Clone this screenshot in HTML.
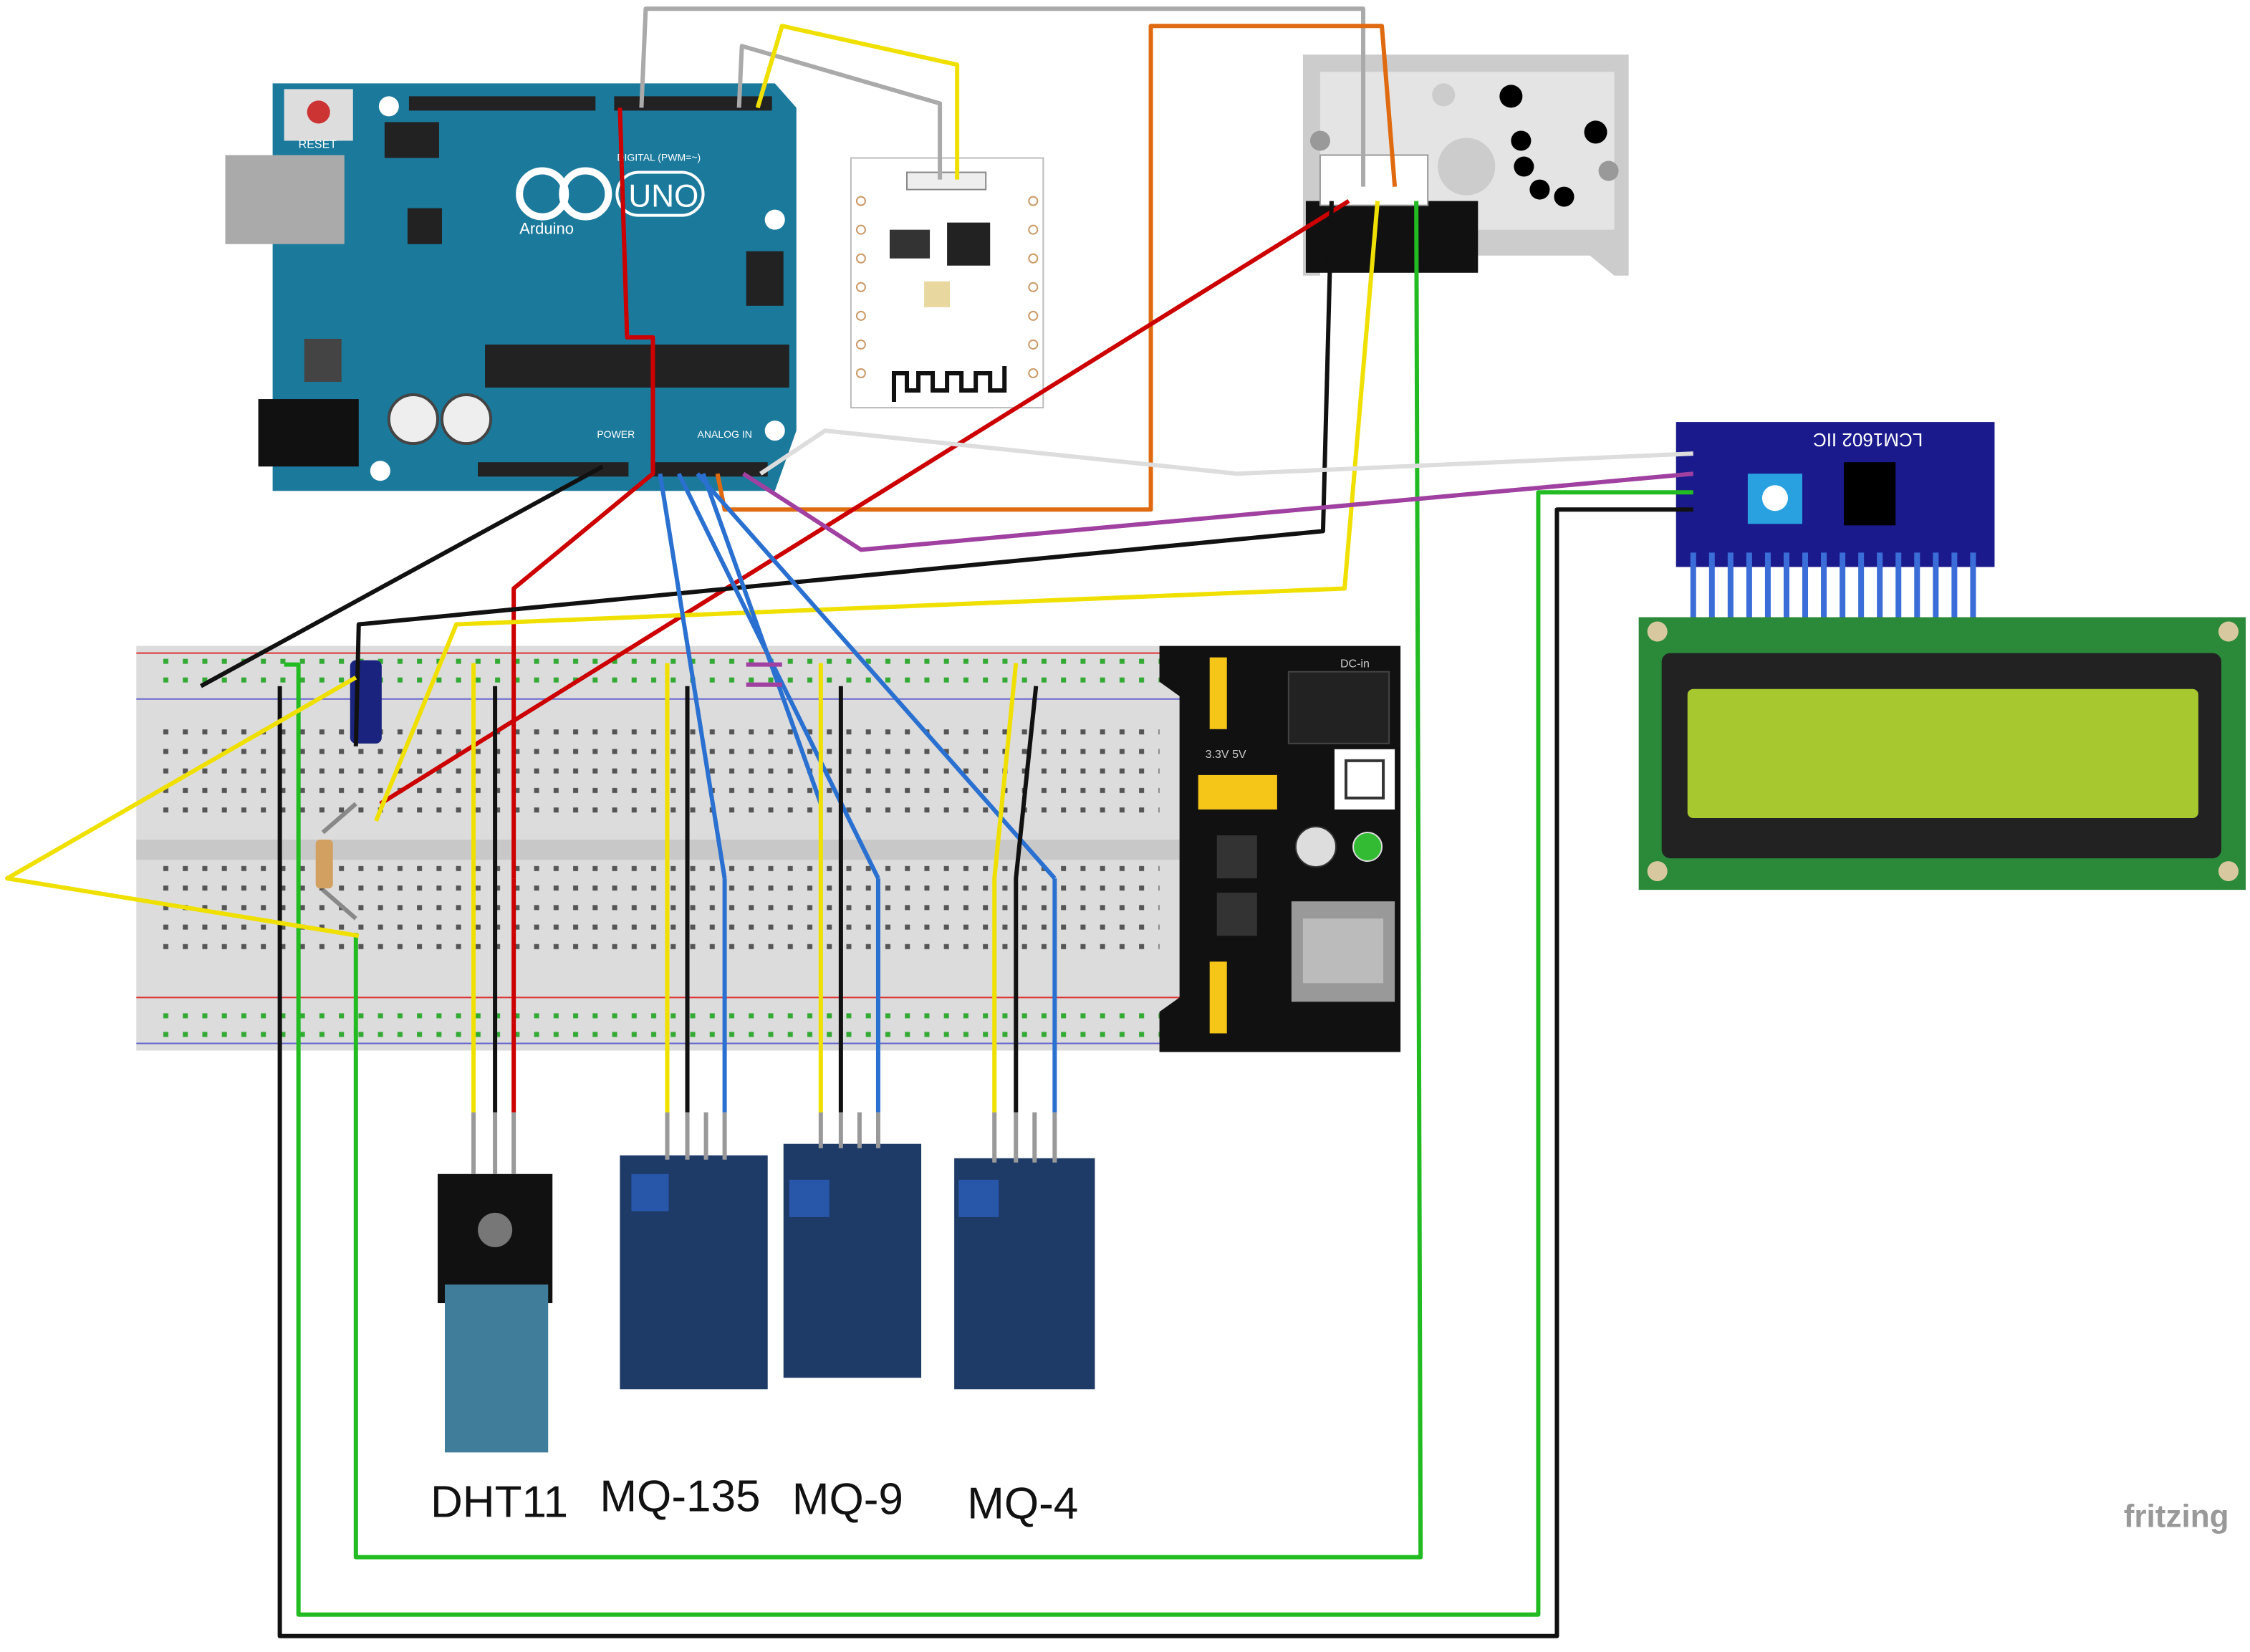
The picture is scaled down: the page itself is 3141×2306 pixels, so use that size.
<!DOCTYPE html>
<html><head><meta charset="utf-8"><style>
html,body{margin:0;padding:0;background:#fff;}
svg{display:block;}
text{font-family:"Liberation Sans",sans-serif;}
</style></head><body>
<svg width="3141" height="2306" viewBox="0 0 1568 1151" xmlns="http://www.w3.org/2000/svg">
<defs>
<pattern id="holes" x="0" y="0" width="13.6" height="13.6" patternUnits="userSpaceOnUse">
<rect x="5" y="5" width="3.5" height="3.5" fill="#555"/></pattern>
<pattern id="rail" x="0" y="0" width="13.6" height="13" patternUnits="userSpaceOnUse">
<rect x="5" y="4" width="3.5" height="3.5" fill="#3a3"/></pattern>
</defs>
<rect width="1568" height="1151" fill="#fff"/>

<!-- Breadboard -->
<rect x="95" y="450" width="735" height="282" fill="#dcdcdc"/>
<line x1="95" y1="455" x2="830" y2="455" stroke="#d33" stroke-width="1"/>
<line x1="95" y1="487" x2="830" y2="487" stroke="#66c" stroke-width="1"/>
<line x1="95" y1="695" x2="830" y2="695" stroke="#d33" stroke-width="1"/>
<line x1="95" y1="727" x2="830" y2="727" stroke="#66c" stroke-width="1"/>
<rect x="95" y="585" width="735" height="14" fill="#c8c8c8"/>
<rect x="108" y="458" width="700" height="26" fill="url(#rail)"/>
<rect x="108" y="698" width="700" height="26" fill="url(#rail)"/>
<rect x="108" y="507" width="700" height="68" fill="url(#holes)"/>
<rect x="108" y="602" width="700" height="68" fill="url(#holes)"/>

<!-- power module -->
<path d="M808 450 H976 V733 H808 V705 L822 695 V485 L808 475 Z" fill="#111"/>
<rect x="898" y="468" width="70" height="50" fill="#222" stroke="#444"/>
<rect x="930" y="522" width="42" height="42" fill="#fff"/>
<rect x="938" y="530" width="26" height="26" fill="#fff" stroke="#333" stroke-width="2"/>
<rect x="835" y="540" width="55" height="24" fill="#f5c518"/>
<rect x="843" y="458" width="12" height="50" fill="#f5c518"/>
<rect x="843" y="670" width="12" height="50" fill="#f5c518"/>
<circle cx="917" cy="590" r="14" fill="#ddd" stroke="#333"/>
<circle cx="953" cy="590" r="10" fill="#3b3" stroke="#ddd"/>
<rect x="900" y="628" width="72" height="70" fill="#999"/>
<rect x="908" y="640" width="56" height="45" fill="#bbb"/>
<rect x="848" y="582" width="28" height="30" fill="#333"/>
<rect x="848" y="622" width="28" height="30" fill="#333"/>
<text x="934" y="465" font-size="8" fill="#ccc">DC-in</text>
<text x="840" y="528" font-size="8" fill="#ccc">3.3V   5V</text>

<!-- Arduino -->
<path d="M190 58 H540 L555 75 V130 L555 300 L540 342 H190 Z" fill="#1b7a9c"/>
<rect x="157" y="108" width="83" height="62" fill="#aaa"/>
<rect x="180" y="278" width="70" height="47" fill="#111"/>
<rect x="198" y="62" width="48" height="36" fill="#ddd"/>
<circle cx="222" cy="78" r="8" fill="#c33"/>
<rect x="285" y="67" width="130" height="10" fill="#222"/>
<rect x="428" y="67" width="110" height="10" fill="#222"/>
<rect x="333" y="322" width="105" height="10" fill="#222"/>
<rect x="455" y="322" width="80" height="10" fill="#222"/>
<rect x="338" y="240" width="212" height="30" fill="#222"/>
<rect x="284" y="145" width="24" height="25" fill="#222"/>
<rect x="268" y="85" width="38" height="25" fill="#222"/>
<rect x="520" y="175" width="26" height="38" fill="#222"/>
<rect x="212" y="236" width="26" height="30" fill="#444"/>
<circle cx="288" cy="292" r="17" fill="#eee" stroke="#444" stroke-width="2"/>
<circle cx="325" cy="292" r="17" fill="#eee" stroke="#444" stroke-width="2"/>
<circle cx="271" cy="74" r="7" fill="#fff"/>
<circle cx="540" cy="153" r="7" fill="#fff"/>
<circle cx="540" cy="300" r="7" fill="#fff"/>
<circle cx="265" cy="328" r="7" fill="#fff"/>
<circle cx="378" cy="135" r="16" fill="none" stroke="#fff" stroke-width="5"/>
<circle cx="408" cy="135" r="16" fill="none" stroke="#fff" stroke-width="5"/>
<rect x="430" y="120" width="60" height="30" rx="15" fill="none" stroke="#fff" stroke-width="2"/>
<text x="438" y="144" font-size="22" fill="#fff">UNO</text>
<text x="362" y="163" font-size="11" fill="#fff">Arduino</text>
<text x="208" y="103" font-size="8" fill="#fff">RESET</text>
<text x="430" y="112" font-size="7" fill="#fff">DIGITAL (PWM=~)</text>
<text x="486" y="305" font-size="7" fill="#fff">ANALOG IN</text>
<text x="416" y="305" font-size="7" fill="#fff">POWER</text>

<!-- ESP -->
<rect x="593" y="110" width="134" height="174" fill="#fff" stroke="#bbb"/>
<rect x="660" y="155" width="30" height="30" fill="#222"/>
<rect x="620" y="160" width="28" height="20" fill="#333"/>
<rect x="644" y="196" width="18" height="18" fill="#e8d8a0"/>
<rect x="632" y="120" width="55" height="12" fill="#eee" stroke="#888"/>
<path d="M623 280 V260 H632 V272 H640 V260 H650 V272 H660 V260 H670 V272 H680 V260 H690 V272 H700 V255" fill="none" stroke="#111" stroke-width="3"/>
<g fill="none" stroke="#c96"><circle cx="600" cy="140" r="3"/><circle cx="600" cy="160" r="3"/><circle cx="600" cy="180" r="3"/><circle cx="600" cy="200" r="3"/><circle cx="600" cy="220" r="3"/><circle cx="600" cy="240" r="3"/><circle cx="600" cy="260" r="3"/><circle cx="720" cy="140" r="3"/><circle cx="720" cy="160" r="3"/><circle cx="720" cy="180" r="3"/><circle cx="720" cy="200" r="3"/><circle cx="720" cy="220" r="3"/><circle cx="720" cy="240" r="3"/><circle cx="720" cy="260" r="3"/></g>

<!-- Dust sensor -->
<path d="M908 38 H1135 V192 H1125 L1108 178 H1028 L1015 160 H920 V192 H908 Z" fill="#ccc"/>
<rect x="920" y="50" width="205" height="110" fill="#e4e4e4"/>
<rect x="910" y="140" width="120" height="50" fill="#111"/>
<rect x="920" y="108" width="75" height="35" fill="#fff" stroke="#999"/>
<circle cx="1022" cy="116" r="20" fill="#ccc"/>
<circle cx="1006" cy="66" r="8" fill="#ccc"/>
<g fill="#000"><circle cx="1053" cy="67" r="8"/><circle cx="1112" cy="92" r="8"/><circle cx="1060" cy="98" r="7"/><circle cx="1062" cy="116" r="7"/><circle cx="1073" cy="132" r="7"/><circle cx="1090" cy="137" r="7"/></g>
<circle cx="920" cy="98" r="7" fill="#999"/><circle cx="1121" cy="119" r="7" fill="#999"/>

<!-- I2C module -->
<rect x="1168" y="294" width="222" height="101" fill="#1a1a8c"/>
<rect x="1218" y="330" width="38" height="35" fill="#29a0e0"/>
<circle cx="1237" cy="347" r="9" fill="#fff"/>
<rect x="1285" y="322" width="36" height="44" fill="#000"/>
<text x="1260" y="312" font-size="13" fill="#fff" transform="rotate(180 1300 307)">LCM1602 IIC</text>
<g stroke="#3b6dd8" stroke-width="4">
<line x1="1180" y1="385" x2="1180" y2="438"/><line x1="1193" y1="385" x2="1193" y2="438"/><line x1="1206" y1="385" x2="1206" y2="438"/><line x1="1219" y1="385" x2="1219" y2="438"/><line x1="1232" y1="385" x2="1232" y2="438"/><line x1="1245" y1="385" x2="1245" y2="438"/><line x1="1258" y1="385" x2="1258" y2="438"/><line x1="1271" y1="385" x2="1271" y2="438"/><line x1="1284" y1="385" x2="1284" y2="438"/><line x1="1297" y1="385" x2="1297" y2="438"/><line x1="1310" y1="385" x2="1310" y2="438"/><line x1="1323" y1="385" x2="1323" y2="438"/><line x1="1336" y1="385" x2="1336" y2="438"/><line x1="1349" y1="385" x2="1349" y2="438"/><line x1="1362" y1="385" x2="1362" y2="438"/><line x1="1375" y1="385" x2="1375" y2="438"/></g>

<!-- LCD -->
<rect x="1142" y="430" width="423" height="190" fill="#2a8a3a"/>
<rect x="1158" y="455" width="390" height="143" rx="6" fill="#222"/>
<rect x="1176" y="480" width="356" height="90" rx="4" fill="#a8c830"/>
<g fill="#d8c8a0"><circle cx="1155" cy="440" r="7"/><circle cx="1553" cy="440" r="7"/><circle cx="1155" cy="607" r="7"/><circle cx="1553" cy="607" r="7"/></g>

<!-- sensors -->
<rect x="305" y="818" width="80" height="90" fill="#111"/>
<circle cx="345" cy="857" r="12" fill="#777"/>
<rect x="310" y="895" width="72" height="117" fill="#3f7d9a"/>
<rect x="432" y="805" width="103" height="163" fill="#1e3a66"/>
<rect x="546" y="797" width="96" height="163" fill="#1e3a66"/>
<rect x="665" y="807" width="98" height="161" fill="#1e3a66"/>
<rect x="440" y="818" width="26" height="26" fill="#2856a8"/>
<rect x="550" y="822" width="28" height="26" fill="#2856a8"/>
<rect x="668" y="822" width="28" height="26" fill="#2856a8"/>
<g stroke="#999" stroke-width="3">
<line x1="330" y1="775" x2="330" y2="818"/><line x1="345" y1="775" x2="345" y2="818"/><line x1="358" y1="775" x2="358" y2="818"/>
<line x1="465" y1="775" x2="465" y2="808"/><line x1="479" y1="775" x2="479" y2="808"/><line x1="492" y1="775" x2="492" y2="808"/><line x1="505" y1="775" x2="505" y2="808"/>
<line x1="572" y1="775" x2="572" y2="800"/><line x1="586" y1="775" x2="586" y2="800"/><line x1="599" y1="775" x2="599" y2="800"/><line x1="612" y1="775" x2="612" y2="800"/>
<line x1="693" y1="775" x2="693" y2="810"/><line x1="708" y1="775" x2="708" y2="810"/><line x1="721" y1="775" x2="721" y2="810"/><line x1="735" y1="775" x2="735" y2="810"/></g>

<!-- resistor / capacitor -->
<rect x="244" y="460" width="22" height="58" rx="4" fill="#1a237e"/>
<rect x="220" y="585" width="12" height="34" rx="3" fill="#d2a060"/>

<!-- wires -->
<g fill="none" stroke-width="3" stroke-linejoin="round">
<polyline stroke="#aaa" points="447,75 450,6 950,6 950,130"/>
<polyline stroke="#aaa" points="515,75 517,32 655,72 655,125"/>
<polyline stroke="#f0e000" points="528,75 545,18 667,45 667,125"/>
<polyline stroke="#e06a10" points="500,330 505,355 802,355 802,18 963,18 972,130"/>
<polyline stroke="#c00" points="432,75 437,235 455,235 455,330 358,410 358,612"/>
<polyline stroke="#c00" points="940,140 265,560"/>
<polyline stroke="#111" points="420,325 140,478"/>
<polyline stroke="#111" points="928,140 922,370 250,435 248,520"/>
<polyline stroke="#f0e000" points="960,140 937,410 318,435 262,572"/>
<polyline stroke="#22bb22" points="987,140 990,1085 248,1085 248,650"/>
<polyline stroke="#ddd" points="530,330 575,300 862,330 1180,316"/>
<polyline stroke="#a040a0" points="518,330 600,383 1180,330"/>
<polyline stroke="#22bb22" points="1180,343 1072,343 1072,1125 208,1125 208,463 198,463"/>
<polyline stroke="#111" points="1180,355 1085,355 1085,1140 195,1140 195,478"/>
<polyline stroke="#f0e000" points="248,472 5,612 250,652"/>
<polyline stroke="#888" points="248,560 225,580"/>
<polyline stroke="#888" points="225,620 248,640"/>
<polyline stroke="#2a70d0" points="460,330 505,612"/>
<polyline stroke="#2a70d0" points="473,330 612,612"/>
<polyline stroke="#2a70d0" points="486,330 735,612"/>
<polyline stroke="#2a70d0" points="490,330 572,560"/>
<polyline stroke="#a040a0" points="520,463 545,463"/>
<polyline stroke="#a040a0" points="520,477 545,477"/>
<polyline stroke="#f0e000" points="330,462 330,775"/><polyline stroke="#111" points="345,478 345,775"/><polyline stroke="#c00" points="358,612 358,775"/>
<polyline stroke="#f0e000" points="465,462 465,775"/><polyline stroke="#111" points="479,478 479,775"/><polyline stroke="#2a70d0" points="505,612 505,775"/>
<polyline stroke="#f0e000" points="572,462 572,775"/><polyline stroke="#111" points="586,478 586,775"/><polyline stroke="#2a70d0" points="612,612 612,775"/>
<polyline stroke="#f0e000" points="708,462 693,612 693,775"/><polyline stroke="#111" points="722,478 708,612 708,775"/><polyline stroke="#2a70d0" points="735,612 735,775"/>
</g>

<text x="300" y="1057" font-size="31" fill="#111">DHT11</text>
<text x="418" y="1053" font-size="31" fill="#111">MQ-135</text>
<text x="552" y="1055" font-size="31" fill="#111">MQ-9</text>
<text x="674" y="1058" font-size="31" fill="#111">MQ-4</text>
<text x="1480" y="1064" font-size="22" fill="#999" font-weight="bold">fritzing</text>
</svg>
</body></html>
